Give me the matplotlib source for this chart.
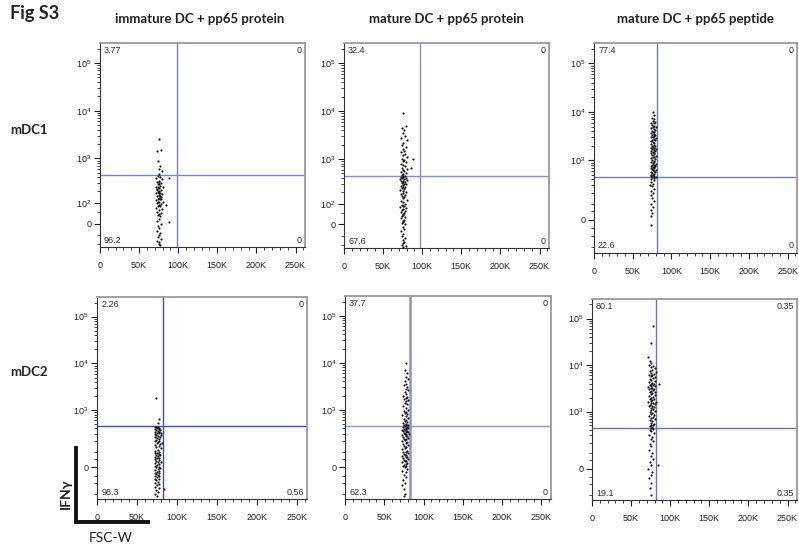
import numpy as np
import matplotlib
matplotlib.use('Agg')
import matplotlib.pyplot as plt
from matplotlib.lines import Line2D
from matplotlib.ticker import FixedLocator

plt.rcParams['font.family'] = ['Liberation Sans', 'DejaVu Sans']
plt.rcParams['mathtext.fontset'] = 'custom'
plt.rcParams['mathtext.rm'] = 'Liberation Sans'
plt.rcParams['mathtext.it'] = 'Liberation Sans:italic'

col_titles = ['immature DC + pp65 protein', 'mature DC + pp65 protein', 'mature DC + pp65 peptide']
row_labels = ['mDC1', 'mDC2']

# quadrant percentages: upper-left, upper-right, lower-left, lower-right
quads = [['3.77', '0', '96.2', '0'],
         ['32.4', '0', '67.6', '0'],
         ['77.4', '0', '22.6', '0'],
         ['2.26', '0', '98.3', '0.56'],
         ['37.7', '0', '62.3', '0'],
         ['80.1', '0.35', '19.1', '0.35']]

x_gate = [99, 97, 81, 82, 82.5, 82]          # FSC-W gate, K
y_gate = [450, 450, 450, 450, 450, 450]      # IFNg gate
asinh_c = [87, 87, 120, 120, 120, 120]
y_bottom = [-121, -121, -276, -270, -270, -270]
y_top = 262144

# events (FSC-W in K, IFNg)
p1 = [(76, 2500), (73, 1400), (78, 1500), (74, 900), (77, 700), (75, 600), (79, 550), (76, 480),
      (88, 380), (85, 90), (88, 5),
      (74, 420), (77, 400), (72, 380), (79, 360), (75, 340), (73, 320), (78, 300), (76, 290),
      (74, 280), (77, 260), (72, 250), (80, 240), (75, 230), (73, 220), (78, 210), (76, 200),
      (74, 190), (77, 180), (72, 175), (79, 170), (75, 160), (73, 150), (78, 145), (76, 140),
      (74, 130), (77, 125), (72, 120), (80, 110), (75, 105), (73, 100), (78, 95), (76, 90),
      (74, 85), (77, 80), (72, 70), (79, 65), (75, 60), (73, 50), (78, 45), (76, 40), (74, 35),
      (77, 30), (75, 20), (73, 10), (78, 0), (74, -10), (76, -20), (73, -30), (77, -40),
      (75, -50), (74, -60), (78, -70), (73, -80), (76, -90), (75, -100), (77, -110),
      (74, 250), (76, 310), (75, 180), (77, 150), (73, 210), (78, 130), (74, 110)]

p2 = [(76, 9000), (79, 5000), (74, 4500), (77, 4000), (75, 3500), (78, 3000), (73, 2800),
      (80, 2500), (76, 2200), (74, 2000), (79, 1800), (75, 1600), (77, 1500), (73, 1400),
      (78, 1300), (76, 1200), (80, 1100), (74, 1000), (77, 950), (75, 900), (79, 850),
      (73, 800), (76, 750), (78, 700), (74, 650), (80, 620), (75, 600), (77, 560), (73, 530),
      (79, 500), (76, 480), (74, 470), (88, 1000), (86, 650),
      (75, 440), (78, 430), (73, 420), (76, 410), (79, 400), (74, 390), (77, 380), (72, 370),
      (80, 360), (75, 350), (73, 340), (78, 330), (76, 320), (74, 310), (77, 300), (79, 290),
      (75, 280), (73, 270), (76, 260), (78, 250), (74, 240), (77, 230), (72, 220), (75, 210),
      (79, 200), (76, 190), (73, 180), (78, 170), (74, 160), (77, 150), (75, 140), (80, 130),
      (73, 120), (76, 110), (78, 100), (74, 95), (77, 90), (75, 85), (72, 80), (79, 75),
      (76, 70), (74, 65), (78, 60), (73, 55), (77, 50), (75, 45), (76, 40), (74, 35), (78, 30),
      (73, 25), (77, 20), (75, 15), (76, 10), (74, 5), (78, 0), (75, -10), (77, -20), (73, -30),
      (76, -40), (74, -50), (78, -60), (75, -70), (77, -80), (76, -90), (74, -100), (79, -110),
      (75, -115)]

p3 = [(76, 10000), (77, 8500), (75, 7500), (78, 7000), (76, 6500), (79, 6200), (74, 6000),
      (77, 5800), (75, 5500), (78, 5200), (76, 5000), (80, 4800), (74, 4600), (77, 4400),
      (79, 4200), (75, 4000), (78, 3900), (76, 3800), (73, 3600), (77, 3500), (79, 3400),
      (75, 3300), (78, 3200), (74, 3100), (76, 3000), (80, 2900), (77, 2800), (75, 2700),
      (79, 2600), (73, 2500), (76, 2400), (78, 2300), (74, 2200), (77, 2100), (75, 2000),
      (79, 1950), (76, 1900), (78, 1850), (74, 1800), (80, 1750), (75, 1700), (77, 1650),
      (73, 1600), (79, 1550), (76, 1500), (78, 1450), (74, 1400), (77, 1350), (75, 1300),
      (80, 1250), (76, 1200), (78, 1150), (73, 1100), (79, 1050), (75, 1000), (77, 970),
      (74, 940), (78, 910), (76, 880), (80, 850), (75, 820), (77, 800), (73, 780), (79, 760),
      (76, 740), (78, 720), (74, 700), (77, 680), (75, 660), (80, 640), (76, 620), (78, 600),
      (74, 580), (79, 560), (75, 540), (77, 520), (73, 500), (76, 490), (78, 480), (74, 470),
      (80, 460),
      (75, 440), (77, 420), (73, 400), (78, 380), (74, 350), (76, 320), (72, 300), (75, 280),
      (77, 250), (74, 220), (76, 200), (73, 180), (75, 150), (77, 120), (74, 100), (76, 80),
      (73, 60), (75, 40), (74, 20), (73, -30)]

p4 = [(74, 1800), (77, 650), (76, 520),
      (73, 440), (76, 430), (74, 420), (78, 410), (75, 400), (72, 390), (77, 380), (79, 370),
      (74, 360), (76, 350), (73, 340), (78, 330), (75, 320), (77, 310), (72, 300), (80, 290),
      (74, 280), (76, 270), (73, 260), (79, 250), (75, 240), (77, 230), (74, 220), (78, 210),
      (72, 200), (76, 190), (75, 180), (79, 170), (73, 160), (77, 150), (74, 140), (80, 130),
      (76, 120), (72, 110), (78, 100), (75, 95), (73, 90), (77, 85), (74, 80), (79, 75),
      (76, 70), (72, 65), (78, 60), (75, 55), (73, 50), (77, 45), (74, 40), (80, 35), (76, 30),
      (72, 25), (78, 20), (75, 15), (73, 10), (77, 5), (74, 0), (79, -5), (76, -10), (72, -15),
      (78, -20), (75, -25), (73, -30), (77, -35), (74, -40), (76, -45), (72, -50), (78, -55),
      (75, -60), (73, -70), (77, -75), (74, -80), (76, -90), (72, -100), (78, -110), (75, -120),
      (73, -130), (77, -140), (74, -160), (76, -180), (73, -200), (75, -230), (84, -150),
      (81, 180), (80, 320)]

p5 = [(78, 10000), (76, 7000), (79, 6000), (77, 5000), (80, 4500), (76, 4000), (78, 3600),
      (75, 3300), (79, 3000), (77, 2800), (80, 2600), (76, 2400), (78, 2200), (74, 2000),
      (79, 1900), (77, 1800), (75, 1700), (80, 1600), (78, 1500), (76, 1400), (79, 1300),
      (74, 1200), (77, 1100), (80, 1000), (75, 950), (78, 900), (76, 850), (79, 800), (73, 760),
      (77, 720), (80, 680), (75, 640), (78, 600), (76, 570), (79, 540), (74, 520), (77, 500),
      (80, 480), (75, 470), (78, 460),
      (76, 440), (79, 430), (74, 420), (77, 410), (80, 400), (75, 390), (78, 380), (73, 370),
      (76, 360), (79, 350), (74, 340), (77, 330), (80, 320), (75, 310), (78, 300), (76, 290),
      (73, 280), (79, 270), (77, 260), (74, 250), (80, 240), (75, 230), (78, 220), (76, 210),
      (72, 200), (79, 190), (77, 180), (74, 170), (80, 160), (75, 150), (78, 140), (76, 130),
      (73, 120), (79, 110), (77, 100), (74, 95), (80, 90), (75, 85), (78, 80), (76, 75),
      (72, 70), (79, 65), (77, 60), (74, 55), (80, 50), (75, 45), (78, 40), (76, 35), (73, 30),
      (79, 25), (77, 20), (75, 15), (78, 10), (74, 5), (76, 0), (79, -10), (73, -20), (77, -30),
      (75, -45), (78, -60), (74, -80), (76, -100), (72, -120), (75, -150), (76, -200),
      (75, -230), (82, 300)]

p6 = [(78, 70000), (76, 30000), (86, 4000), (85, 20),
      (72, 15000), (74, 12000), (76, 11000), (73, 10000), (78, 9500), (75, 9000), (80, 8500),
      (77, 8000), (74, 7500), (82, 7000), (76, 6800), (79, 6500), (73, 6200), (77, 6000),
      (75, 5700), (80, 5500), (78, 5200), (74, 5000), (76, 4800), (81, 4600), (73, 4400),
      (77, 4200), (75, 4000), (79, 3900), (74, 3800), (78, 3700), (76, 3600), (80, 3500),
      (72, 3400), (77, 3300), (75, 3200), (79, 3100), (73, 3000), (78, 2900), (76, 2800),
      (81, 2700), (74, 2600), (77, 2500), (75, 2400), (80, 2300), (73, 2200), (78, 2100),
      (76, 2000), (79, 1900), (74, 1850), (77, 1800), (75, 1700), (82, 1650), (72, 1600),
      (78, 1550), (76, 1500), (80, 1450), (74, 1400), (77, 1350), (73, 1300), (79, 1250),
      (75, 1200), (78, 1150), (76, 1100), (81, 1050), (74, 1000), (77, 950), (75, 900),
      (79, 860), (73, 820), (78, 780), (76, 740), (80, 700), (74, 660), (77, 620), (75, 580),
      (79, 550), (76, 520), (78, 500), (74, 480), (77, 465),
      (75, 440), (78, 420), (74, 400), (76, 370), (79, 340), (73, 310), (77, 280), (75, 250),
      (78, 220), (74, 190), (76, 160), (73, 130), (77, 100), (75, 80), (78, 60), (74, 40),
      (76, 20), (72, 0), (77, -20), (75, -40), (73, -60), (76, -90), (74, -130), (75, -200)]

events = [p1, p2, p3, p4, p5, p6]

x_ticks = [0, 50000, 100000, 150000, 200000, 250000]
x_ticklabels = ['0', '50K', '100K', '150K', '200K', '250K']
y_ticks_a = [0, 100, 1000, 10000, 100000]
y_ticks_b = [0, 1000, 10000, 100000]

# panel boxes in pixels: left, top, right, bottom
boxes = [(100, 43, 305, 247), (344, 43, 549, 248), (594, 43, 797, 253),
         (97, 297, 307, 499), (345, 296, 551, 499), (592, 299, 797, 500)]
gate_colors = ['#7c80c8', '#8a8ed0', '#7278c4', '#3f4fb3', '#8c90d4', '#6a72c2']
W, H = 799, 547

fig = plt.figure(figsize=(W / 100, H / 100), dpi=100)


def asinh_funcs(c):
    def fwd(v):
        return np.arcsinh(np.asarray(v, dtype=float) / c) / np.log(10)

    def inv(v):
        return c * np.sinh(np.asarray(v, dtype=float) * np.log(10))
    return fwd, inv


for i in range(6):
    l, t, r, b = boxes[i]
    ax = fig.add_axes([l / W, 1 - b / H, (r - l) / W, (b - t) / H])
    c = asinh_c[i]
    ax.set_yscale('function', functions=asinh_funcs(c))
    ax.set_xlim(0, 262144)
    ax.set_ylim(y_bottom[i], y_top)

    xs = [p[0] * 1000 for p in events[i]]
    ys = [p[1] for p in events[i]]
    ax.scatter(xs, ys, s=2.4, c='#111111', linewidths=0, zorder=3)

    lw = 1.8 if i == 4 else 1.0
    ax.axvline(x_gate[i] * 1000, color=gate_colors[i], lw=lw, zorder=2)
    ax.axhline(y_gate[i], color=gate_colors[i], lw=1.0, zorder=2)

    ax.set_xticks(x_ticks)
    ax.set_xticklabels(x_ticklabels)
    ax.xaxis.set_minor_locator(FixedLocator(np.arange(0, 262144, 10000)))
    yt = y_ticks_a if i < 2 else y_ticks_b
    ax.set_yticks(yt)
    ax.set_yticklabels(['0' if v == 0 else r'$10^{%d}$' % int(np.log10(v)) for v in yt])
    minors = [-100, -50, 50]
    if i >= 2:
        minors = [-200, -100, -50, 50, 100]
    for k in (100, 1000, 10000):
        minors += [m * k for m in range(2, 10)]
    minors.append(200000)
    ax.yaxis.set_minor_locator(FixedLocator(minors))

    ax.tick_params(which='major', direction='out', length=4, width=0.8,
                   labelsize=6.5, colors='#222222', pad=2)
    ax.tick_params(which='minor', direction='out', length=2, width=0.6, colors='#222222')
    ax.tick_params(axis='x', pad=6)
    for s in ('left', 'bottom'):
        ax.spines[s].set_color('#333333')
        ax.spines[s].set_linewidth(0.8)
    for s in ('top', 'right'):
        ax.spines[s].set_color('#9a9a9a')
        ax.spines[s].set_linewidth(1.3)

    ul, ur, ll, lr = quads[i]
    kw = dict(transform=ax.transAxes, fontsize=6.5, color='#333333')
    ax.text(0.02, 0.985, ul, ha='left', va='top', **kw)
    ax.text(0.985, 0.985, ur, ha='right', va='top', **kw)
    ax.text(0.02, 0.012, ll, ha='left', va='bottom', **kw)
    ax.text(0.985, 0.012, lr, ha='right', va='bottom', **kw)

title_x = [200, 446, 695]
for tx, title in zip(title_x, col_titles):
    fig.text(tx / W, 1 - 19 / H, title, ha='center', va='center', fontsize=9.5,
             fontweight='bold', family=['Lato', 'DejaVu Sans'], color='#222222')

fig.text(10 / W, 1 - 13 / H, 'Fig S3', ha='left', va='center', fontsize=13,
         fontweight='bold', family=['Lato', 'DejaVu Sans'], color='#222222')
for ry, lab in zip([130, 372], row_labels):
    fig.text(10 / W, 1 - ry / H, lab, ha='left', va='center', fontsize=9.5,
             fontweight='bold', family=['Lato', 'DejaVu Sans'], color='#222222')

# axis key in the lower-left corner
fig.add_artist(Line2D([76 / W, 76 / W, 148 / W], [1 - 448 / H, 1 - 522 / H, 1 - 522 / H],
                      color='#111111', lw=2.8, solid_joinstyle='miter'))
fig.text(66 / W, 1 - 494 / H, 'IFNγ', rotation=90, ha='center', va='center',
         fontsize=10, fontweight='bold', family=['Lato', 'DejaVu Sans'], color='#222222')
fig.text(111 / W, 1 - 538 / H, 'FSC-W', ha='center', va='center',
         fontsize=10, family=['Lato', 'DejaVu Sans'], color='#222222')

fig.savefig('out.png', dpi=100)
